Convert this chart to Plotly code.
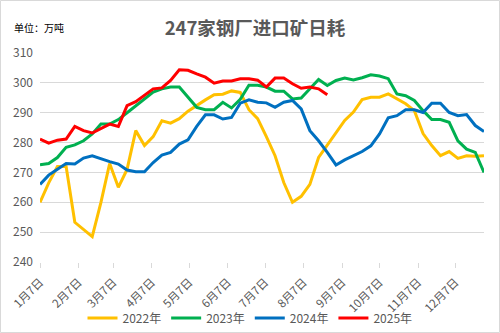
import plotly.graph_objects as go
import pandas as pd

# Weekly data (万吨), week 1 = 1月7日
y2022 = [260, 266.5, 272, 272, 253.3, 251, 248.5, 260, 273, 265, 271, 284, 279, 282,
         287.3, 286.5, 288, 290.5, 292.5, 294.3, 296, 296.2, 297.3, 296.8, 291, 288,
         282, 275.6, 266.6, 260, 262, 266, 275, 279, 283.4, 287.4, 290.2, 294.4, 295.2,
         295.2, 296.3, 294.6, 293, 290.7, 283, 279, 275.6, 277, 274.7, 275.6, 275.4, 275.6]
y2023 = [272.6, 273, 275, 278.4, 279.2, 280.6, 282.9, 286.2, 286.2, 287.7, 290, 292.4,
         294.6, 296.9, 298, 298.6, 298.6, 295.2, 291.8, 291, 291, 293.5, 291.6, 294.5,
         299.2, 299.2, 298.6, 297.2, 297.2, 294.6, 294.9, 298, 301.1, 299.1, 300.8, 301.6,
         301, 301.7, 302.7, 302.3, 301.4, 296.3, 295.7, 294.1, 290.7, 287.7, 287.7, 286.8,
         280.6, 277.8, 276.7, 270]
y2024 = [266, 269.1, 271.1, 273, 272.8, 274.8, 275.6, 274.5, 273.6, 272.8, 270.8, 270.2,
         270.2, 273.3, 275.8, 276.7, 279.5, 280.9, 285.4, 289.3, 289.3, 287.9, 288.4, 293.2,
         294.3, 293.5, 293.3, 291.8, 293.5, 294.1, 291.3, 284, 280.6, 276.7, 272.5, 274.2,
         275.6, 277, 278.9, 282.9, 288.3, 289, 291, 291, 290.1, 293.2, 293.2, 290.1, 289,
         289.4, 285.7, 283.7]
y2025 = [281.2, 279.8, 280.8, 281.2, 285.4, 284, 283.2, 284.6, 286.2, 285.4, 292.4, 293.7,
         295.8, 298, 298.3, 300.8, 304.4, 304.2, 303, 301.9, 299.9, 300.6, 300.6, 301.4,
         301.4, 300.9, 298.6, 301.6, 301.6, 299.7, 298.2, 298.6, 298, 296]

series = [("2022年", y2022, "#FFC000"), ("2023年", y2023, "#00B050"),
          ("2024年", y2024, "#0070C0"), ("2025年", y2025, "#FF0000")]

tick_vals = [f"2023-{m:02d}-07" for m in range(1, 13)]
tick_text = [f"{m}月7日" for m in range(1, 13)]
y_ticks = [240, 250, 260, 270, 280, 290, 300, 310]

weeks = pd.date_range("2023-01-07", periods=52, freq="7D")

fig = go.Figure()
for name, vals, color in series:
    fig.add_trace(go.Scatter(x=weeks[:len(vals)], y=vals, name=name, mode="lines",
                             line=dict(color=color, width=3)))

font = "Noto Sans CJK SC, Microsoft YaHei, sans-serif"
L, R, T, B = 40, 16, 53, 71
W, H = 500, 333
pw, ph = W - L - R, H - T - B

fig.update_layout(
    width=W, height=H,
    margin=dict(l=L, r=R, t=T, b=B, autoexpand=False),
    paper_bgcolor="white", plot_bgcolor="white",
    font=dict(family=font, size=11, color="#595959"),
    title=dict(text="<b>247家钢厂进口矿日耗</b>", x=0.51, xanchor="center",
               y=1 - 29 / H, yanchor="middle",
               font=dict(family=font, size=18.5, color="#595959")),
    showlegend=True,
    legend=dict(orientation="h", xref="container", x=0.5, xanchor="center",
                yref="container", y=15 / H, yanchor="middle", bgcolor="rgba(0,0,0,0)",
                font=dict(size=12, color="#595959"), itemwidth=30, tracegroupgap=0),
    xaxis=dict(type="date", range=["2023-01-07", "2023-12-30"], tickvals=tick_vals,
               ticktext=tick_text, tickangle=-45, showgrid=False, ticks="outside",
               ticklen=5, tickcolor="#D9D9D9", showline=False, zeroline=False,
               automargin=False, ticklabelstandoff=3,
               tickfont=dict(size=11.5, color="#595959")),
    yaxis=dict(range=[240, 310], tickvals=y_ticks, showgrid=True, gridcolor="#D9D9D9",
               gridwidth=1, zeroline=False, showline=False, ticks="", automargin=False,
               ticklabelstandoff=6, tickfont=dict(size=12, color="#595959")),
    annotations=[dict(text="单位：万吨", xref="paper", yref="paper",
                      x=-28 / pw, y=1 + 25 / ph, xanchor="left", yanchor="middle",
                      showarrow=False, font=dict(family=font, size=10, color="#000000"))],
    shapes=[dict(type="rect", xref="paper", yref="paper",
                 x0=-(L - 0.5) / pw, x1=1 + (R - 0.5) / pw,
                 y0=-(B - 0.5) / ph, y1=1 + (T - 0.5) / ph,
                 line=dict(color="#D9D9D9", width=1), layer="below")],
)

fig.write_html("out.html")
